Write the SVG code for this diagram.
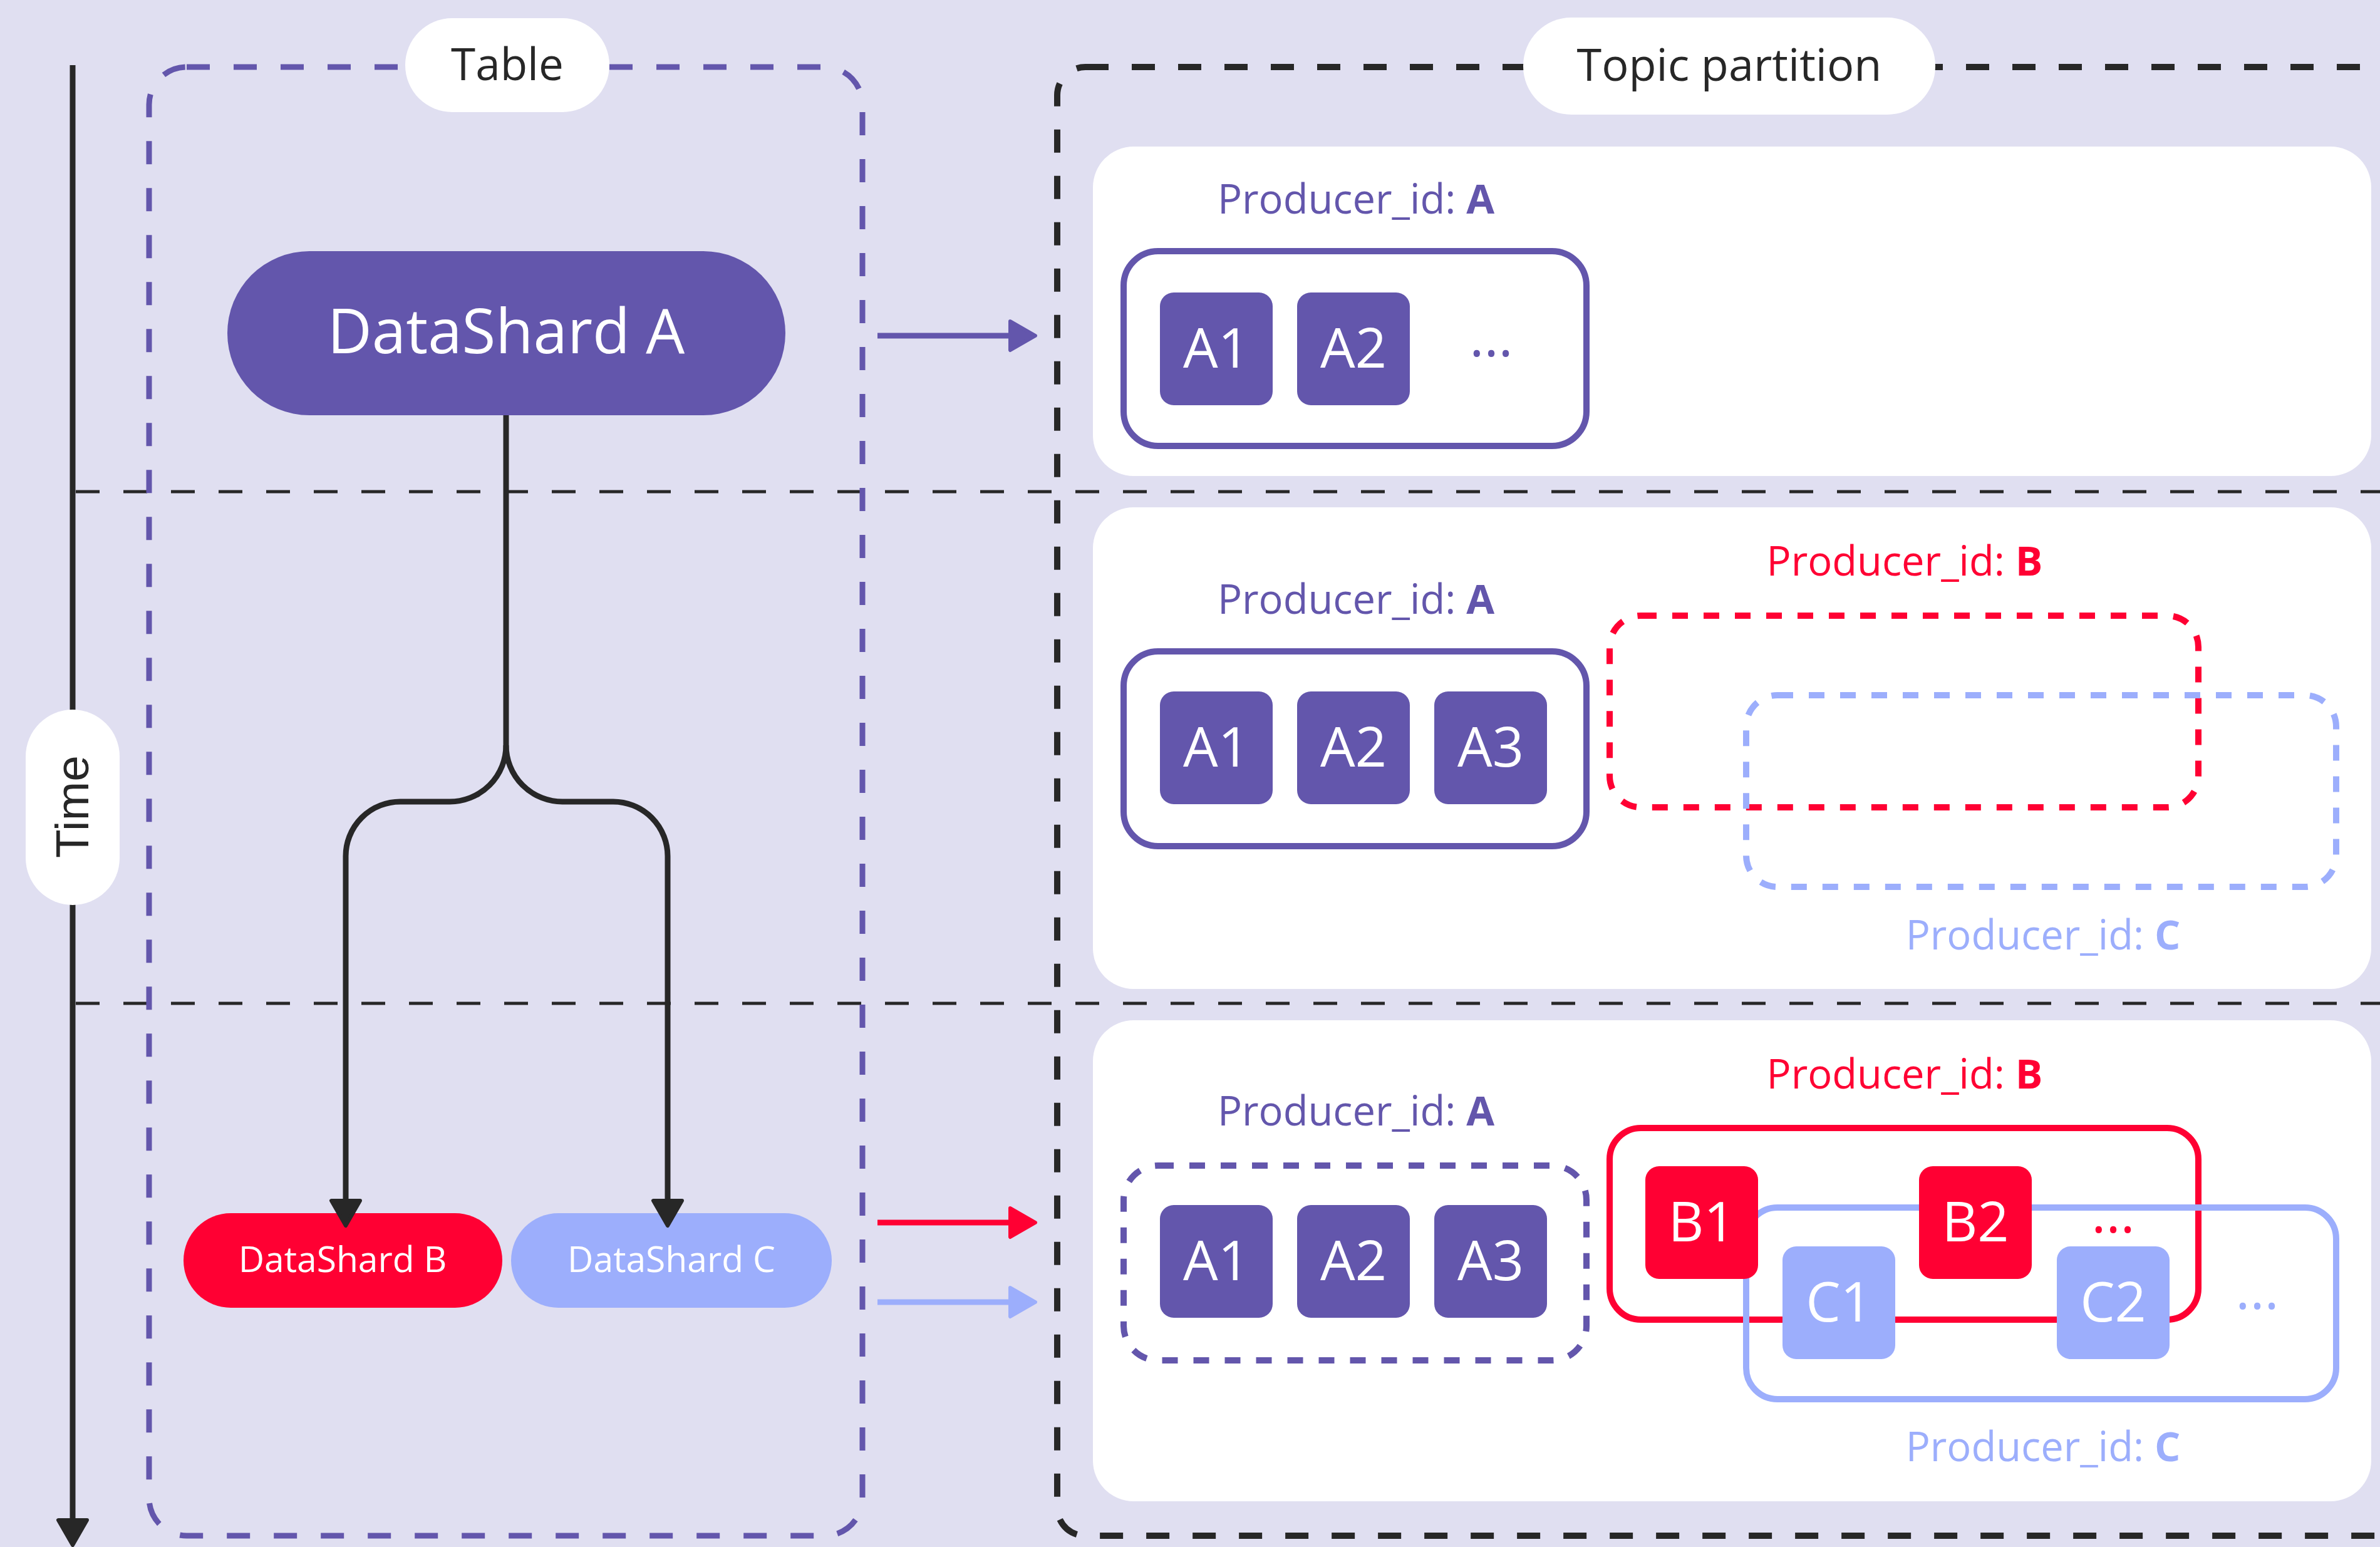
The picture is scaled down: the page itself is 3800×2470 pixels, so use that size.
<svg xmlns="http://www.w3.org/2000/svg" width="3800" height="2470" viewBox="0 0 3800 2470">
  <defs>
    <style>
      .txt { font-family: "Open Sans", "Liberation Sans", sans-serif; }
      .time { font-family: "Liberation Sans", Arial, sans-serif; }
      .pill { fill: #ffffff; }
      .panel { fill: #ffffff; }
      .sq-a { fill: #6356AC; }
      .sq-b { fill: #FF0033; }
      .sq-c { fill: #9CAEFC; }
      .sq-text { font-size: 88px; fill: #ffffff; text-anchor: middle; }
      .pid { font-size: 65px; text-anchor: middle; }
      .pid-a { fill: #6356AC; }
      .pid-b { fill: #FF0033; }
      .pid-c { fill: #9CAEFC; }
      .dots { font-size: 88px; text-anchor: middle; }
      .grp-a { fill: none; stroke: #6356AC; stroke-width: 10; }
      .grp-b { fill: none; stroke: #FF0033; stroke-width: 10; }
      .grp-c { fill: none; stroke: #9CAEFC; stroke-width: 10; }
      .short-dash { stroke-dasharray: 25 25; }
      .divider { stroke: #272727; stroke-width: 5; stroke-dasharray: 38 38; fill: none; }
      .link { fill: none; stroke-width: 9; }
    </style>
    <marker id="head-dark" markerUnits="userSpaceOnUse" markerWidth="60" markerHeight="60" viewBox="0 0 60 60" refX="8" refY="30" orient="auto">
      <path d="M6,7 L46,30 L6,53 Z" fill="#272727" stroke="#272727" stroke-width="6" stroke-linejoin="round"/>
    </marker>
    <marker id="head-purple" markerUnits="userSpaceOnUse" markerWidth="60" markerHeight="60" viewBox="0 0 60 60" refX="8" refY="30" orient="auto">
      <path d="M6,7 L46,30 L6,53 Z" fill="#6356AC" stroke="#6356AC" stroke-width="6" stroke-linejoin="round"/>
    </marker>
    <marker id="head-red" markerUnits="userSpaceOnUse" markerWidth="60" markerHeight="60" viewBox="0 0 60 60" refX="8" refY="30" orient="auto">
      <path d="M6,7 L46,30 L6,53 Z" fill="#FF0033" stroke="#FF0033" stroke-width="6" stroke-linejoin="round"/>
    </marker>
    <marker id="head-blue" markerUnits="userSpaceOnUse" markerWidth="60" markerHeight="60" viewBox="0 0 60 60" refX="8" refY="30" orient="auto">
      <path d="M6,7 L46,30 L6,53 Z" fill="#9CAEFC" stroke="#9CAEFC" stroke-width="6" stroke-linejoin="round"/>
    </marker>
  </defs>

  <!-- backdrop -->
  <rect x="0" y="0" width="3800" height="2470" fill="#E0DFF1"/>

  <!-- time-step separators -->
  <g id="separators">
    <line class="divider" x1="121" y1="785" x2="3800" y2="785"/>
    <line class="divider" x1="121" y1="1602" x2="3800" y2="1602"/>
  </g>

  <!-- time axis -->
  <g id="time-axis">
    <line x1="116" y1="104" x2="116" y2="2429" stroke="#272727" stroke-width="9" marker-end="url(#head-dark)"/>
    <rect class="pill" x="41" y="1133" width="150" height="312" rx="75"/>
    <text class="time" transform="translate(141 1288) rotate(-90)" font-size="75" fill="#272727" text-anchor="middle">Time</text>
  </g>

  <!-- table frame -->
  <g id="table">
    <rect x="238" y="107" width="1139" height="2345" rx="60" fill="none" stroke="#6356AC" stroke-width="9" stroke-dasharray="37 38"/>
    <rect class="pill" x="647" y="29" width="326" height="150" rx="75"/>
    <text class="txt" x="810" y="128" font-size="71" fill="#272727" text-anchor="middle">Table</text>
  </g>

  <!-- topic partition frame -->
  <g id="topic-partition">
    <rect x="1688" y="107" width="2400" height="2345" rx="45" fill="none" stroke="#272727" stroke-width="10" stroke-dasharray="37 37"/>
    <rect class="pill" x="2432" y="28" width="658" height="155" rx="77"/>
    <text class="txt" x="2761" y="129" font-size="72" fill="#272727" text-anchor="middle">Topic partition</text>
  </g>

  <!-- shards -->
  <g id="datashard-a">
    <rect x="363" y="401" width="891" height="262" rx="131" fill="#6356AC"/>
    <text class="txt" x="808" y="564" font-size="98" fill="#ffffff" text-anchor="middle">DataShard A</text>
  </g>
  <g id="datashard-b">
    <rect x="293" y="1937" width="509" height="151" rx="75.5" fill="#FF0033"/>
    <text class="txt" x="547" y="2031" font-size="57" fill="#ffffff" text-anchor="middle">DataShard B</text>
  </g>
  <g id="datashard-c">
    <rect x="816" y="1937" width="512" height="151" rx="75.5" fill="#9CAEFC"/>
    <text class="txt" x="1072" y="2031" font-size="57" fill="#ffffff" text-anchor="middle">DataShard C</text>
  </g>

  <!-- connectors -->
  <g id="connectors">
    <path class="link" stroke="#272727" d="M808 663 V1190 A90 90 0 0 1 718 1280 H640 A87 87 0 0 0 552 1368 V1919" marker-end="url(#head-dark)"/>
    <path class="link" stroke="#272727" d="M808 1190 A90 90 0 0 0 898 1280 H978 A87 87 0 0 1 1066 1368 V1919" marker-end="url(#head-dark)"/>
    <line class="link" stroke="#6356AC" x1="1401" y1="536" x2="1615" y2="536" marker-end="url(#head-purple)"/>
    <line class="link" stroke="#FF0033" x1="1401" y1="1952" x2="1615" y2="1952" marker-end="url(#head-red)"/>
    <line class="link" stroke="#9CAEFC" x1="1401" y1="2079" x2="1615" y2="2079" marker-end="url(#head-blue)"/>
  </g>

  <!-- partition state, step 1 -->
  <g id="step-1">
    <rect class="panel" x="1745" y="234" width="2041" height="526" rx="65"/>
    <text class="txt pid pid-a" x="2165" y="341">Producer_id: <tspan font-weight="bold">A</tspan></text>
    <rect class="grp-a" x="1794" y="401" width="739" height="311" rx="55"/>
    <rect class="sq-a" x="1852" y="467" width="180" height="180" rx="22"/>
    <text class="txt sq-text" x="1942" y="587">A1</text>
    <rect class="sq-a" x="2071" y="467" width="180" height="180" rx="22"/>
    <text class="txt sq-text" x="2161" y="587">A2</text>
    <text class="txt dots pid-a" x="2381" y="569">...</text>
  </g>

  <!-- partition state, step 2 -->
  <g id="step-2">
    <rect class="panel" x="1745" y="810" width="2041" height="769" rx="65"/>
    <text class="txt pid pid-a" x="2165" y="980">Producer_id: <tspan font-weight="bold">A</tspan></text>
    <text class="txt pid pid-b" x="3041" y="919">Producer_id: <tspan font-weight="bold">B</tspan></text>
    <text class="txt pid pid-c" x="3262" y="1516">Producer_id: <tspan font-weight="bold">C</tspan></text>
    <rect class="grp-a" x="1794" y="1040" width="739" height="311" rx="55"/>
    <rect class="grp-b short-dash" x="2570" y="983" width="940" height="306" rx="50"/>
    <rect class="grp-c short-dash" x="2788" y="1110" width="942" height="306" rx="50"/>
    <rect class="sq-a" x="1852" y="1104" width="180" height="180" rx="22"/>
    <text class="txt sq-text" x="1942" y="1224">A1</text>
    <rect class="sq-a" x="2071" y="1104" width="180" height="180" rx="22"/>
    <text class="txt sq-text" x="2161" y="1224">A2</text>
    <rect class="sq-a" x="2290" y="1104" width="180" height="180" rx="22"/>
    <text class="txt sq-text" x="2380" y="1224">A3</text>
  </g>

  <!-- partition state, step 3 -->
  <g id="step-3">
    <rect class="panel" x="1745" y="1629" width="2041" height="768" rx="65"/>
    <text class="txt pid pid-a" x="2165" y="1797">Producer_id: <tspan font-weight="bold">A</tspan></text>
    <text class="txt pid pid-b" x="3041" y="1738">Producer_id: <tspan font-weight="bold">B</tspan></text>
    <text class="txt pid pid-c" x="3262" y="2333">Producer_id: <tspan font-weight="bold">C</tspan></text>
    <rect class="grp-a short-dash" x="1794" y="1861" width="739" height="311" rx="55"/>
    <rect class="sq-a" x="1852" y="1924" width="180" height="180" rx="22"/>
    <text class="txt sq-text" x="1942" y="2044">A1</text>
    <rect class="sq-a" x="2071" y="1924" width="180" height="180" rx="22"/>
    <text class="txt sq-text" x="2161" y="2044">A2</text>
    <rect class="sq-a" x="2290" y="1924" width="180" height="180" rx="22"/>
    <text class="txt sq-text" x="2380" y="2044">A3</text>
    <rect class="grp-b" x="2570" y="1801" width="940" height="306" rx="50"/>
    <rect class="grp-c" x="2788" y="1928" width="942" height="306" rx="50"/>
    <rect class="sq-b" x="2627" y="1862" width="180" height="180" rx="22"/>
    <text class="txt sq-text" x="2717" y="1982">B1</text>
    <rect class="sq-b" x="3064" y="1862" width="180" height="180" rx="22"/>
    <text class="txt sq-text" x="3154" y="1982">B2</text>
    <text class="txt dots pid-b" x="3374" y="1968">...</text>
    <rect class="sq-c" x="2846" y="1990" width="180" height="180" rx="22"/>
    <text class="txt sq-text" x="2936" y="2110">C1</text>
    <rect class="sq-c" x="3284" y="1990" width="180" height="180" rx="22"/>
    <text class="txt sq-text" x="3374" y="2110">C2</text>
    <text class="txt dots pid-c" x="3604" y="2090">...</text>
  </g>
</svg>
